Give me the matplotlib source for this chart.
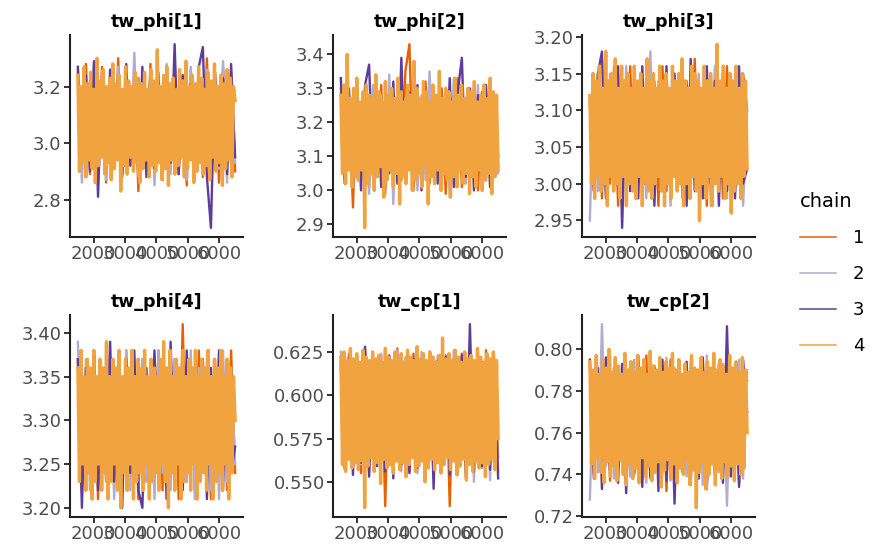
import numpy as np
import matplotlib
matplotlib.use("Agg")
import matplotlib.pyplot as plt
from matplotlib.lines import Line2D
from matplotlib.ticker import FixedLocator, MultipleLocator, FormatStrFormatter

# facet titles and chains
params = ["tw_phi[1]", "tw_phi[2]", "tw_phi[3]", "tw_phi[4]", "tw_cp[1]", "tw_cp[2]"]
chains = ["1", "2", "3", "4"]
chain_colors = ["#e66101", "#b2abd2", "#5e3c99", "#f1a340"]
chain_lw = [1.7, 1.7, 1.7, 2.4]

# iterations shown on x
first_iter = 1501
last_iter = 6500
x_ticks = [2000, 3000, 4000, 5000, 6000]

# y tick spacing / decimals per facet
y_steps = [0.2, 0.1, 0.05, 0.05, 0.025, 0.02]
y_decimals = [1, 1, 2, 2, 3, 2]

# thinned draws
phi1_c1 = [3.25, 2.92, 3.28, 2.89, 3.22, 2.94, 3.27, 2.86, 3.24, 2.91, 3.30, 2.88, 3.21, 2.93, 3.26, 2.83, 3.23, 2.90, 3.28, 2.92,
           3.25, 2.87, 3.22, 2.94, 3.29, 2.89, 3.24, 2.85, 3.26, 2.92, 3.21, 2.88, 3.30, 2.91, 3.25, 2.86, 3.27, 2.93, 3.23, 2.90]
phi1_c2 = [3.26, 2.86, 3.22, 2.93, 3.28, 2.90, 3.25, 2.87, 3.21, 2.94, 3.27, 2.89, 3.24, 2.92, 3.32, 2.88, 3.23, 2.95, 3.26, 2.85,
           3.22, 2.91, 3.28, 2.89, 3.25, 2.93, 3.21, 2.87, 3.27, 2.90, 3.24, 2.92, 3.26, 2.88, 3.22, 2.91, 3.29, 2.86, 3.25, 2.93]
phi1_c3 = [3.27, 2.97, 3.24, 2.90, 3.29, 2.81, 3.22, 2.93, 3.26, 2.95, 3.23, 2.89, 3.28, 2.92, 3.21, 2.94, 3.27, 2.88, 3.25, 2.91,
           3.22, 2.87, 3.26, 2.93, 3.35, 2.89, 3.24, 2.92, 3.21, 2.90, 3.27, 3.34, 2.88, 2.70, 3.25, 2.92, 3.23, 2.89, 3.28, 2.95]
phi1_c4 = [3.24, 2.90, 3.20, 2.93, 3.27, 2.88, 3.21, 2.94, 3.25, 2.91,
           3.19, 2.86, 3.30, 2.92, 3.22, 2.95, 3.26, 2.89, 3.20, 2.93,
           3.23, 2.87, 3.28, 2.91, 3.21, 2.94, 3.24, 2.83, 3.19, 2.92,
           3.27, 2.89, 3.22, 2.95, 3.20, 2.90, 3.25, 2.93, 3.23, 2.86,
           3.21, 2.91, 3.25, 2.94, 3.19, 2.88, 3.26, 2.92, 3.22, 2.90,
           3.33, 2.93, 3.20, 2.87, 3.24, 2.91, 3.27, 2.85, 3.21, 2.94,
           3.23, 2.89, 3.19, 2.92, 3.26, 2.95, 3.22, 2.88, 3.29, 2.91,
           3.20, 2.94, 3.24, 2.86, 3.21, 2.90, 3.27, 2.93, 3.23, 2.89,
           3.19, 2.92, 3.25, 2.87, 3.22, 2.95, 3.28, 2.90, 3.20, 2.93,
           3.24, 2.85, 3.21, 2.91, 3.26, 2.94, 3.23, 2.88, 3.20, 3.15]

phi2_c1 = [3.30, 3.02, 3.27, 2.95, 3.33, 3.05, 3.28, 3.01, 3.26, 3.04, 3.31, 2.99, 3.29, 3.06, 3.27, 3.03, 3.35, 3.43, 3.00, 3.28,
           3.05, 3.32, 3.02, 3.27, 3.06, 3.30, 2.99, 3.28, 3.04, 3.33, 3.01, 3.27, 3.05, 3.30, 3.00, 3.29, 3.03, 3.26, 3.05, 3.07]
phi2_c2 = [3.33, 3.06, 3.28, 3.01, 3.30, 3.04, 3.26, 2.99, 3.31, 3.05, 3.28, 3.02, 3.34, 2.96, 3.29, 3.04, 3.27, 3.06, 3.32, 3.00,
           3.28, 3.03, 3.35, 3.05, 3.27, 3.01, 3.30, 2.98, 3.33, 3.04, 3.28, 3.02, 3.26, 3.06, 3.31, 3.00, 3.29, 3.03, 3.27, 3.05]
phi2_c3 = [3.33, 3.02, 3.30, 3.06, 3.28, 3.00, 3.31, 3.37, 3.04, 3.29, 3.01, 3.27, 3.05, 3.32, 3.02, 3.39, 3.03, 3.29, 3.06, 3.31,
           3.00, 3.28, 3.04, 3.30, 3.02, 3.27, 3.05, 3.33, 3.01, 3.29, 3.39, 3.04, 3.30, 3.00, 3.28, 3.03, 3.31, 3.01, 3.27, 3.10]
phi2_c4 = [3.28, 3.05, 3.31, 3.02, 3.40, 3.06, 3.27, 3.01, 3.30, 3.04,
           3.33, 3.03, 3.26, 3.06, 3.29, 2.89, 3.31, 3.02, 3.28, 3.05,
           3.27, 3.00, 3.34, 3.04, 3.29, 3.07, 3.26, 2.98, 3.32, 3.03,
           3.28, 3.06, 3.30, 3.01, 3.27, 3.05, 3.33, 2.96, 3.29, 3.04,
           3.26, 3.02, 3.31, 3.06, 3.28, 3.00, 3.38, 3.03, 3.30, 3.05,
           3.27, 3.01, 3.32, 3.07, 3.29, 2.96, 3.26, 3.04, 3.31, 3.02,
           3.28, 3.06, 3.35, 3.00, 3.27, 3.05, 3.30, 3.03, 3.29, 2.98,
           3.26, 3.04, 3.33, 3.01, 3.28, 3.06, 3.31, 3.02, 3.27, 3.05,
           3.30, 2.99, 3.29, 3.04, 3.32, 3.01, 3.26, 3.06, 3.28, 3.00,
           3.31, 3.03, 3.27, 3.05, 3.33, 2.99, 3.29, 3.04, 3.28, 3.06]

phi3_c1 = [3.12, 2.99, 3.15, 2.98, 3.13, 3.00, 3.16, 2.97, 3.14, 3.01, 3.16, 2.99, 3.13, 2.98, 3.15, 3.00, 3.14, 2.97, 3.16, 2.99,
           3.13, 3.01, 3.15, 2.98, 3.14, 3.00, 3.17, 2.99, 3.13, 2.97, 3.15, 3.00, 3.14, 2.98, 3.16, 2.99, 3.13, 3.01, 3.15, 3.10]
phi3_c2 = [2.95, 3.14, 2.99, 3.13, 2.98, 3.15, 3.00, 3.13, 2.97, 3.16, 2.99, 3.14, 3.01, 3.13, 2.98, 3.18, 3.00, 3.14, 2.99, 3.15,
           2.97, 3.13, 3.00, 3.16, 2.98, 3.14, 3.01, 3.15, 2.99, 3.13, 2.97, 3.16, 3.00, 3.14, 2.98, 3.15, 2.99, 3.13, 2.97, 3.10]
phi3_c3 = [3.11, 2.99, 3.15, 3.18, 2.98, 3.14, 3.00, 3.16, 2.94, 3.13, 2.99, 3.15, 2.98, 3.16, 3.00, 3.14, 2.97, 3.13, 2.99, 3.16,
           2.98, 3.15, 3.00, 3.14, 2.97, 3.17, 2.99, 3.13, 2.98, 3.16, 3.00, 3.14, 2.97, 3.15, 2.99, 3.13, 2.98, 3.16, 3.00, 3.02]
phi3_c4 = [3.12, 3.00, 3.15, 2.98, 3.14, 3.01, 3.16, 2.99, 3.13, 3.00,
           3.18, 2.97, 3.14, 3.01, 3.15, 2.99, 3.17, 3.00, 3.13, 2.98,
           3.16, 3.01, 3.14, 2.97, 3.15, 3.00, 3.13, 2.99, 3.16, 2.98,
           3.14, 3.01, 3.15, 2.97, 3.13, 3.00, 3.17, 2.99, 3.14, 2.98,
           3.15, 3.00, 3.13, 3.01, 3.16, 2.99, 3.14, 2.97, 3.15, 3.00,
           3.13, 2.98, 3.16, 3.01, 3.14, 2.99, 3.15, 3.00, 3.17, 2.97,
           3.14, 3.00, 3.13, 2.98, 3.16, 3.01, 3.15, 2.99, 3.14, 2.95,
           3.13, 3.00, 3.16, 2.98, 3.14, 3.01, 3.15, 2.97, 3.13, 3.00,
           3.19, 2.99, 3.14, 3.01, 3.16, 2.98, 3.13, 3.00, 3.15, 2.96,
           3.14, 2.99, 3.16, 3.00, 3.13, 2.98, 3.15, 3.01, 3.14, 3.02]

phi4_c1 = [3.37, 3.22, 3.35, 3.24, 3.38, 3.21, 3.36, 3.23, 3.37, 3.25, 3.35, 3.22, 3.38, 3.24, 3.36, 3.21, 3.37, 3.23, 3.35, 3.25,
           3.38, 3.22, 3.36, 3.24, 3.37, 3.21, 3.41, 3.23, 3.36, 3.22, 3.38, 3.24, 3.35, 3.21, 3.37, 3.23, 3.36, 3.22, 3.38, 3.24]
phi4_c2 = [3.39, 3.24, 3.37, 3.22, 3.38, 3.25, 3.36, 3.23, 3.37, 3.21, 3.35, 3.24, 3.38, 3.22, 3.36, 3.25, 3.37, 3.23, 3.35, 3.21,
           3.38, 3.24, 3.36, 3.22, 3.37, 3.25, 3.35, 3.23, 3.38, 3.21, 3.36, 3.24, 3.37, 3.22, 3.35, 3.21, 3.38, 3.23, 3.36, 3.25]
phi4_c3 = [3.37, 3.20, 3.36, 3.24, 3.38, 3.22, 3.35, 3.25, 3.39, 3.23, 3.36, 3.20, 3.37, 3.24, 3.38, 3.22, 3.20, 3.36, 3.25, 3.38,
           3.23, 3.37, 3.21, 3.39, 3.24, 3.36, 3.22, 3.38, 3.25, 3.35, 3.23, 3.37, 3.21, 3.36, 3.24, 3.38, 3.22, 3.37, 3.24, 3.27]
phi4_c4 = [3.36, 3.23, 3.38, 3.25, 3.35, 3.22, 3.37, 3.24, 3.36, 3.21,
           3.38, 3.23, 3.35, 3.25, 3.37, 3.22, 3.36, 3.24, 3.39, 3.21,
           3.35, 3.23, 3.37, 3.25, 3.36, 3.22, 3.38, 3.20, 3.35, 3.24,
           3.37, 3.22, 3.36, 3.25, 3.38, 3.21, 3.35, 3.23, 3.37, 3.24,
           3.36, 3.22, 3.38, 3.25, 3.35, 3.21, 3.37, 3.23, 3.36, 3.24,
           3.35, 3.22, 3.37, 3.25, 3.39, 3.23, 3.36, 3.20, 3.38, 3.24,
           3.35, 3.22, 3.37, 3.25, 3.36, 3.21, 3.38, 3.23, 3.35, 3.24,
           3.37, 3.22, 3.36, 3.25, 3.38, 3.21, 3.35, 3.23, 3.37, 3.24,
           3.36, 3.22, 3.38, 3.25, 3.35, 3.21, 3.37, 3.23, 3.36, 3.24,
           3.38, 3.22, 3.35, 3.25, 3.37, 3.21, 3.36, 3.24, 3.35, 3.30]

cp1_c1 = [0.619, 0.558, 0.624, 0.561, 0.621, 0.555, 0.626, 0.560, 0.620, 0.563, 0.623, 0.536, 0.622, 0.559, 0.627, 0.562, 0.620, 0.556, 0.624, 0.561,
          0.621, 0.558, 0.625, 0.563, 0.619, 0.557, 0.623, 0.536, 0.621, 0.560, 0.624, 0.555, 0.622, 0.562, 0.620, 0.558, 0.626, 0.561, 0.621, 0.564]
cp1_c2 = [0.625, 0.562, 0.620, 0.557, 0.623, 0.560, 0.627, 0.554, 0.621, 0.561, 0.624, 0.558, 0.619, 0.563, 0.626, 0.556, 0.622, 0.560, 0.620, 0.555,
          0.625, 0.562, 0.621, 0.559, 0.623, 0.557, 0.619, 0.561, 0.626, 0.554, 0.622, 0.560, 0.620, 0.550, 0.624, 0.558, 0.621, 0.551, 0.623, 0.556]
cp1_c3 = [0.616, 0.557, 0.622, 0.554, 0.619, 0.561, 0.628, 0.553, 0.621, 0.559, 0.618, 0.556, 0.623, 0.552, 0.620, 0.560, 0.598, 0.555, 0.621, 0.558,
          0.619, 0.562, 0.624, 0.546, 0.620, 0.557, 0.622, 0.554, 0.618, 0.560, 0.623, 0.553, 0.641, 0.556, 0.621, 0.559, 0.618, 0.557, 0.620, 0.552]
cp1_c4 = [0.622, 0.560, 0.625, 0.556, 0.620, 0.563, 0.627, 0.558, 0.621, 0.561,
          0.624, 0.557, 0.619, 0.562, 0.626, 0.535, 0.622, 0.559, 0.620, 0.564,
          0.625, 0.556, 0.621, 0.561, 0.623, 0.549, 0.619, 0.563, 0.627, 0.558,
          0.622, 0.560, 0.620, 0.555, 0.625, 0.562, 0.621, 0.557, 0.624, 0.561,
          0.619, 0.553, 0.626, 0.560, 0.622, 0.564, 0.620, 0.556, 0.628, 0.559,
          0.621, 0.562, 0.624, 0.550, 0.620, 0.558, 0.625, 0.563, 0.622, 0.557,
          0.619, 0.561, 0.623, 0.555, 0.633, 0.560, 0.621, 0.564, 0.624, 0.557,
          0.620, 0.562, 0.626, 0.554, 0.622, 0.559, 0.619, 0.563, 0.625, 0.551,
          0.621, 0.560, 0.623, 0.556, 0.620, 0.562, 0.627, 0.558, 0.622, 0.561,
          0.619, 0.553, 0.624, 0.560, 0.621, 0.563, 0.625, 0.557, 0.620, 0.575]

cp2_c1 = [0.793, 0.740, 0.789, 0.746, 0.796, 0.737, 0.791, 0.743, 0.788, 0.735, 0.794, 0.741, 0.790, 0.747, 0.797, 0.738, 0.789, 0.744, 0.792, 0.732,
          0.795, 0.740, 0.788, 0.745, 0.793, 0.737, 0.790, 0.742, 0.796, 0.734, 0.791, 0.746, 0.789, 0.739, 0.801, 0.743, 0.792, 0.736, 0.790, 0.785]
cp2_c2 = [0.728, 0.790, 0.741, 0.812, 0.744, 0.797, 0.738, 0.791, 0.746, 0.788, 0.739, 0.795, 0.743, 0.790, 0.736, 0.793, 0.745, 0.789, 0.740, 0.796,
          0.737, 0.791, 0.744, 0.788, 0.739, 0.794, 0.742, 0.790, 0.735, 0.797, 0.746, 0.789, 0.741, 0.793, 0.725, 0.791, 0.743, 0.795, 0.738, 0.790]
cp2_c3 = [0.795, 0.738, 0.791, 0.733, 0.796, 0.742, 0.789, 0.736, 0.793, 0.731, 0.790, 0.740, 0.797, 0.734, 0.788, 0.739, 0.792, 0.732, 0.795, 0.737,
          0.789, 0.726, 0.791, 0.741, 0.794, 0.735, 0.790, 0.738, 0.796, 0.733, 0.789, 0.740, 0.793, 0.736, 0.811, 0.739, 0.790, 0.734, 0.795, 0.770]
cp2_c4 = [0.794, 0.745, 0.790, 0.738, 0.797, 0.748, 0.788, 0.741, 0.795, 0.736,
          0.791, 0.746, 0.800, 0.739, 0.789, 0.744, 0.796, 0.737, 0.792, 0.747,
          0.788, 0.740, 0.798, 0.735, 0.790, 0.745, 0.794, 0.738, 0.789, 0.743,
          0.797, 0.736, 0.791, 0.748, 0.795, 0.739, 0.788, 0.744, 0.799, 0.737,
          0.792, 0.741, 0.790, 0.746, 0.796, 0.734, 0.789, 0.742, 0.794, 0.747,
          0.791, 0.738, 0.798, 0.745, 0.790, 0.736, 0.795, 0.743, 0.788, 0.740,
          0.793, 0.747, 0.789, 0.735, 0.797, 0.742, 0.791, 0.724, 0.790, 0.741,
          0.796, 0.746, 0.789, 0.733, 0.794, 0.740, 0.791, 0.745, 0.798, 0.735,
          0.790, 0.742, 0.795, 0.738, 0.792, 0.746, 0.788, 0.739, 0.797, 0.744,
          0.791, 0.737, 0.794, 0.745, 0.789, 0.740, 0.796, 0.743, 0.790, 0.760]

traces = {
    "tw_phi[1]": [phi1_c1, phi1_c2, phi1_c3, phi1_c4],
    "tw_phi[2]": [phi2_c1, phi2_c2, phi2_c3, phi2_c4],
    "tw_phi[3]": [phi3_c1, phi3_c2, phi3_c3, phi3_c4],
    "tw_phi[4]": [phi4_c1, phi4_c2, phi4_c3, phi4_c4],
    "tw_cp[1]": [cp1_c1, cp1_c2, cp1_c3, cp1_c4],
    "tw_cp[2]": [cp2_c1, cp2_c2, cp2_c3, cp2_c4],
}

W, H = 871, 550
fig = plt.figure(figsize=(W / 100, H / 100), dpi=100)

# panel boxes in pixels (left, top)
col_left = [70, 333, 582]
row_top = [35, 315]
box_w, box_h = 173, 202

for i, name in enumerate(params):
    r, c = divmod(i, 3)
    ax = fig.add_axes([col_left[c] / W, 1 - (row_top[r] + box_h) / H, box_w / W, box_h / H])
    for vals, col, lw in zip(traces[name], chain_colors, chain_lw):
        x = np.linspace(first_iter, last_iter, len(vals))
        ax.plot(x, vals, color=col, lw=lw)
    ax.margins(x=0.05, y=0.05)

    ax.set_title(name, fontsize=12.5, fontweight="bold", pad=6)
    ax.xaxis.set_major_locator(FixedLocator(x_ticks))
    ax.yaxis.set_major_locator(MultipleLocator(y_steps[i]))
    ax.yaxis.set_major_formatter(FormatStrFormatter(f"%.{y_decimals[i]}f"))

    for s in ["top", "right"]:
        ax.spines[s].set_visible(False)
    for s in ["left", "bottom"]:
        ax.spines[s].set_linewidth(1.5)
        ax.spines[s].set_color("#222222")
    ax.tick_params(length=4, width=1.4, color="#333333", labelcolor="#4d4d4d", labelsize=13, pad=2)

# legend
handles = [Line2D([], [], color=c, lw=1.1) for c in chain_colors]
leg = fig.legend(handles, chains, title="chain", loc="upper left",
                 bbox_to_anchor=(784 / W, 1 - 176 / H), frameon=False,
                 fontsize=13, title_fontsize=14, handlelength=2.0,
                 handletextpad=0.9, labelspacing=1.0, alignment="left")

fig.savefig("out.png", dpi=100)
